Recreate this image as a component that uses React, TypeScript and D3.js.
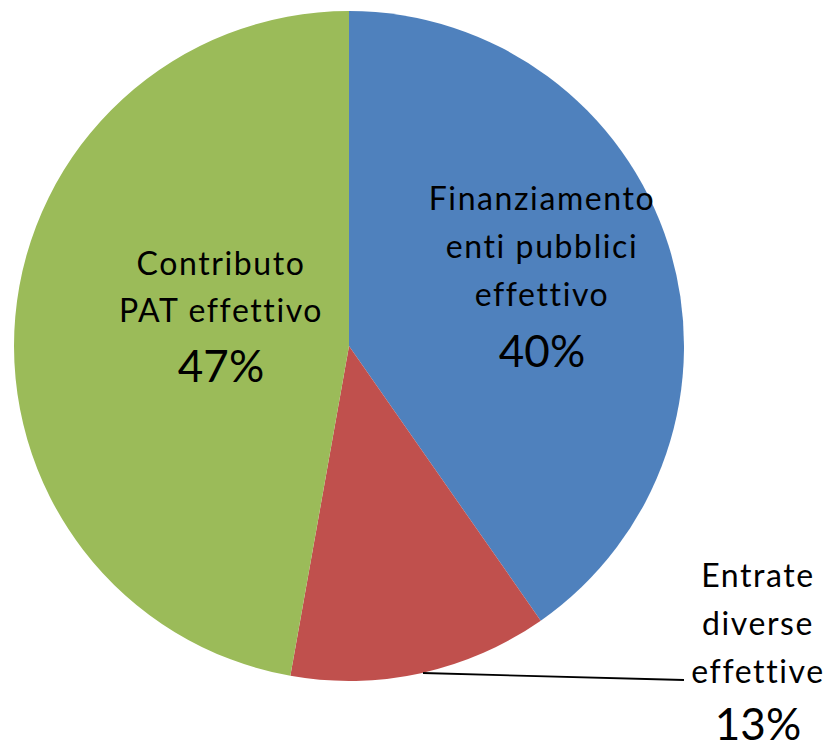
import React from "react";
import * as d3 from "d3";

const categories = ["Finanziamento enti pubblici effettivo", "Entrate diverse effettive", "Contributo PAT effettivo"];
const values = [40.3, 12.5, 47.2];
const percentLabels = ["40%", "13%", "47%"];
const labelLines = [
  ["Finanziamento", "enti pubblici", "effettivo"],
  ["Entrate", "diverse", "effettive"],
  ["Contributo", "PAT effettivo"],
];
const colors = ["#4F81BD", "#C0504D", "#9BBB59"];

const W = 832;
const H = 749;
const cx = 349;
const cy = 346;
const R = 335;

// label layout (anchor centre x, first baseline y, line gap, percent baseline)
const labelPos = [
  { x: 542, y: 210, gap: 48, py: 367 },
  { x: 758, y: 587, gap: 48, py: 740 },
  { x: 221, y: 275, gap: 47, py: 382 },
];

export default function App() {
  const pie = d3.pie<number>().sort(null).startAngle(0).endAngle(2 * Math.PI);
  const arcs = pie(values);
  const arcGen = d3.arc<d3.PieArcDatum<number>>().innerRadius(0).outerRadius(R);

  return (
    <svg width={W} height={H} style={{ position: "absolute", left: 0, top: 0 }}>
      <rect width={W} height={H} fill="#fff" />
      <g transform={`translate(${cx},${cy})`}>
        {arcs.map((a, i) => (
          <path key={categories[i]} d={arcGen(a) || ""} fill={colors[i]} />
        ))}
      </g>
      <line x1={423} y1={673} x2={684} y2={680} stroke="#000" strokeWidth={1.8} />
      {labelPos.map((p, i) => (
        <g key={i} fontFamily="Lato, 'Open Sans', sans-serif" fill="#000" textAnchor="middle">
          {labelLines[i].map((t, j) => (
            <text key={j} x={p.x} y={p.y + j * p.gap} fontSize={32} letterSpacing={1.6}>
              {t}
            </text>
          ))}
          <text x={p.x} y={p.py} fontSize={44}>
            {percentLabels[i]}
          </text>
        </g>
      ))}
    </svg>
  );
}
